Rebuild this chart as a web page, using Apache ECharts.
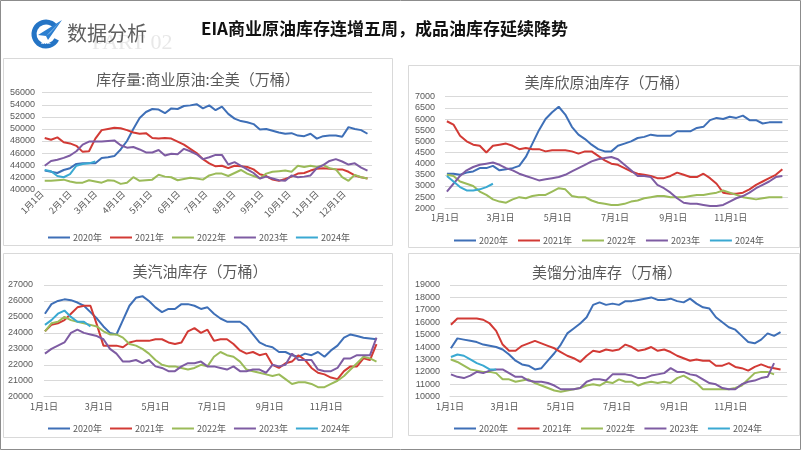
<!DOCTYPE html>
<html><head><meta charset="utf-8">
<script src="https://cdn.jsdelivr.net/npm/echarts@6/dist/echarts.min.js"></script>
<style>html,body{margin:0;padding:0;background:#fff}#c{width:802px;height:451px}</style>
</head><body><div id="c"></div>
<script>
const seriesNames = ['2020年','2021年','2022年','2023年','2024年'];
const monthLabels = ['1月1日','2月1日','3月1日','4月1日','5月1日','6月1日','7月1日','8月1日','9月1日','10月1日','11月1日','12月1日'];
const monthDays = [0,31,59,90,120,151,181,212,243,273,304,334];

// 库存量:商业原油:全美（万桶）
const crude2020 = [43100,42900,42700,43200,43500,44200,44300,44300,44300,45200,45300,45500,46600,48000,50000,51800,52800,53300,53200,52600,53400,53300,53800,53900,54100,53400,53900,53100,53700,52500,51700,51300,51100,50800,49900,50000,49700,49400,49200,49300,48900,48800,49200,48400,48800,48900,48900,48700,50300,50000,49800,49200];
const crude2021 = [48500,48200,48600,47800,47600,47200,46200,46300,48400,49800,50000,50200,50100,49800,49400,49200,49300,48500,48400,48500,48400,47900,47400,46700,46000,45000,44300,43800,43900,43500,43900,43800,43700,43300,42500,42200,41600,41400,41700,42100,42600,42700,43100,43400,43500,43400,43300,43300,42900,42300,42000,41800];
const crude2022 = [41400,41400,41500,41600,41300,41100,41100,41500,41300,41100,41500,41400,40900,41100,42000,41400,41500,41600,42400,42100,42000,41500,41700,41900,41800,41600,42300,42600,42600,42200,42700,43200,42600,42200,41800,42600,42900,43000,43100,42900,43900,43700,43900,43700,44000,43500,43300,42000,41400,42400,42000,41800];
const crude2023 = [43900,44700,44900,45200,45600,46300,47400,47900,47900,47900,48000,48100,47300,46900,47000,46600,46100,46100,46500,45600,45900,45800,46700,46300,45800,45000,45300,45700,45700,44100,44500,43900,43300,42700,41800,42100,41800,41500,41400,42300,42000,42100,42300,43500,44000,44700,45000,44600,44100,44300,43600,43100];
const crude2024 = [43200,43000,42200,42000,42500,43900,44200,44300,44600];

// 美库欣原油库存（万桶）
const cush2020 = [3550,3550,3500,3600,3650,3800,3800,3900,3700,3750,3800,3900,4300,4900,5500,6000,6300,6550,6200,5650,5300,5100,4850,4650,4550,4550,4800,4900,5000,5150,5200,5300,5250,5250,5250,5450,5450,5450,5600,5650,5950,6050,6000,6100,6050,6150,5950,5950,5800,5850,5850,5850];
const cush2021 = [5900,5750,5250,5000,4850,4800,4500,4800,4850,4900,4800,4650,4700,4650,4650,4550,4600,4600,4600,4550,4450,4550,4550,4350,4150,4000,3950,3800,3650,3550,3500,3450,3350,3350,3450,3600,3500,3400,3400,3550,3350,3100,2700,2650,2650,2700,2850,3050,3200,3350,3500,3750];
const cush2022 = [3500,3450,3200,3100,3000,2750,2600,2400,2300,2250,2400,2500,2450,2550,2600,2600,2750,2900,2850,2550,2500,2500,2350,2250,2200,2150,2150,2200,2300,2350,2450,2500,2550,2550,2500,2500,2500,2550,2600,2600,2650,2700,2800,2700,2600,2500,2450,2400,2450,2500,2500,2500];
const cush2023 = [2750,3100,3450,3700,3850,3950,4000,4050,3950,3800,3700,3550,3450,3350,3250,3300,3350,3400,3500,3650,3800,3950,4100,4200,4250,4300,4200,3950,3700,3450,3450,3400,3050,2900,2700,2450,2250,2200,2200,2150,2100,2100,2150,2300,2450,2550,2700,2900,3050,3200,3400,3450];
const cush2024 = [3450,3200,2950,2800,2800,2850,2950,3100];

// 美汽油库存（万桶）
const gas2020 = [25200,25800,26000,26100,26050,25900,25700,25300,24900,24400,24000,23900,24800,25700,26200,26300,26000,25600,25300,25500,25500,25800,25800,25700,25500,25600,25200,24900,24700,24700,24700,24400,23900,23400,23200,23100,22800,22800,22600,22500,22700,22600,22800,22500,22900,23200,23700,23900,23800,23700,23650,23600];
const gas2021 = [24100,24500,24600,24800,25200,25600,25700,25700,24500,23200,23200,23200,23100,23400,23500,23500,23500,23600,23600,23400,23300,23400,24100,24300,24000,24200,23500,23600,23600,23300,22900,22700,22800,22600,22700,22000,21800,22100,22200,22600,22300,21800,21500,21400,21200,21100,21600,21900,21900,22400,22300,23300];
const gas2022 = [24100,24600,24700,25000,24800,24700,24600,24500,24400,24100,23900,23900,23700,23300,23200,23000,22700,22300,22000,21900,21900,21800,21700,21800,22000,21900,22500,22800,22600,22500,22200,21700,21600,21500,21400,21300,21400,21100,20800,20900,20900,20800,20600,20600,20800,21000,21300,21700,22100,22500,22400,22200];
const gas2023 = [22700,23000,23200,23400,24000,24200,24000,23900,23800,23600,23000,22700,22200,22200,22300,22100,22300,21900,21800,21600,21600,21900,22100,22100,22200,21900,21900,21800,21700,21900,21600,21600,21700,21700,21500,22000,21900,22000,22700,22300,22300,22300,21700,21600,21600,21800,22400,22400,22600,22600,22600,23700];
const gas2024 = [24500,24800,25200,25400,25000,24700,24700,24400];

// 美馏分油库存（万桶）
const dist2020 = [13900,14700,14600,14500,14400,14200,14100,14000,13800,13400,12900,12600,12500,12200,12300,12900,13500,14200,15100,15500,15900,16400,17400,17600,17400,17500,17400,17700,17700,17800,17900,18000,17800,17800,17900,17700,17600,17900,17500,17200,17100,16400,16000,15600,15400,14900,14400,14300,14600,15100,14900,15200];
const dist2021 = [15800,16300,16300,16300,16300,16200,15900,15300,14200,13700,13700,14100,14300,14500,14300,14100,13900,13600,13300,13100,12800,13300,13700,13600,13800,13700,13800,14200,14000,13700,13800,14000,13700,13800,13600,13300,13100,12900,13000,12900,12900,12500,12500,12700,12400,12300,12100,12400,12600,12400,12300,12200];
const dist2022 = [13000,12800,12500,12200,12100,12000,12000,11900,11400,11400,11200,11300,11400,11100,10900,10700,10500,10400,10500,10600,10700,10900,11000,10900,11200,11100,11400,11200,11200,10900,11100,11200,11100,11200,11100,11500,11700,11400,11100,10600,10600,10600,10600,10600,10700,10900,11400,11900,12000,12000,11800];
const dist2023 = [11800,11600,11500,11700,12000,11900,12100,12200,12200,11900,11600,11600,11300,11200,11200,11100,10900,10600,10600,10600,10700,11200,11400,11400,11300,11800,11800,11800,11700,11500,11500,11700,11800,11900,12300,12000,12000,11800,11700,11400,11100,11000,10700,10600,10600,11000,11200,11300,11500,11600,12700];
const dist2024 = [13200,13400,13300,13000,12700,12500,12200,12200];

const titles = ['库存量:商业原油:全美（万桶）','美库欣原油库存（万桶）','美汽油库存（万桶）','美馏分油库存（万桶）'];
const colors = ['#3E6FB7','#D23A35','#9BBB59','#7E5CA3','#3AA9D2'];

const panels = [
  {data:[crude2020,crude2021,crude2022,crude2023,crude2024], off:3, min:40000, max:56000, interval:2000,
   grid:{left:42, top:92.7, width:330, height:96.6}, rotate:45, months:monthDays, lblMargin:7, xMargin:3,
   title:[193,67], legend:[43,228], gap:8},
  {data:[cush2020,cush2021,cush2022,cush2023,cush2024], off:2, min:2000, max:7000, interval:500,
   grid:{left:445, top:96.7, width:343, height:111.6}, rotate:0, months:[0,59,120,181,243,304], lblMargin:10, xMargin:5,
   title:[602,70], legend:[449,231], gap:10},
  {data:[gas2020,gas2021,gas2022,gas2023,gas2024], off:1, min:20000, max:27000, interval:1000,
   grid:{left:44, top:285, width:339, height:111.7}, rotate:0, months:[0,59,120,181,243,304], lblMargin:11, xMargin:5,
   title:[195,258.5], legend:[43,419], gap:8},
  {data:[dist2020,dist2021,dist2022,dist2023,dist2024], off:1, min:10000, max:19000, interval:1000,
   grid:{left:450, top:285, width:337, height:111.7}, rotate:0, months:[0,59,120,181,243,304], lblMargin:10, xMargin:5,
   title:[602,260], legend:[449,419], gap:9.5}
];

const FONT = 'Noto Sans CJK SC';
const grids=[], xAxes=[], yAxes=[], series=[], titleArr=[], legends=[];
panels.forEach((p,k)=>{
  grids.push(Object.assign({containLabel:false}, p.grid));
  xAxes.push({type:'value', gridIndex:k, min:0, max:365,
    axisLine:{show:true, lineStyle:{color:'#d9d9d9'}}, axisTick:{show:false}, splitLine:{show:false},
    axisLabel:{customValues:p.months, rotate:p.rotate, margin:p.xMargin, fontSize:9, color:'#595959', fontFamily:FONT,
      formatter:v=>monthLabels[monthDays.indexOf(v)]}});
  yAxes.push({type:'value', gridIndex:k, min:p.min, max:p.max, interval:p.interval,
    axisLine:{show:false}, axisTick:{show:false},
    splitLine:{lineStyle:{color:'#d9d9d9', width:1}},
    axisLabel:{fontSize:9, color:'#595959', margin:p.lblMargin, fontFamily:'Liberation Sans', formatter:v=>String(v)}});
  p.data.forEach((arr,j)=>{
    series.push({type:'line', name:seriesNames[j], xAxisIndex:k, yAxisIndex:k, symbol:'none',
      data:arr.map((v,i)=>[p.off+7*i, v]), color:colors[j],
      lineStyle:{width:2, color:colors[j]}, animation:false});
  });
  titleArr.push({text:titles[k], left:p.title[0], top:p.title[1], textAlign:'center',
    textStyle:{fontSize:15, fontWeight:'normal', color:'#595959', fontFamily:FONT}});
  legends.push({left:p.legend[0], top:p.legend[1], data:seriesNames, icon:'rect', itemWidth:22, itemHeight:2,
    itemGap:p.gap, textStyle:{fontSize:9, color:'#595959', fontFamily:FONT, padding:[0,0,0,-2]}, selectedMode:false});
});

const graphics = [
  {type:'rect', shape:{x:0.5,y:0.5,width:800,height:449}, style:{fill:'none', stroke:'#8c8c8c', lineWidth:1}, z:-10},
  {type:'rect', shape:{x:3.5,y:58.5,width:389,height:187}, style:{fill:'none', stroke:'#d9d9d9', lineWidth:1}, z:-5},
  {type:'rect', shape:{x:408.5,y:65.5,width:391,height:182}, style:{fill:'none', stroke:'#d9d9d9', lineWidth:1}, z:-5},
  {type:'rect', shape:{x:3.5,y:253.5,width:389,height:184}, style:{fill:'none', stroke:'#d9d9d9', lineWidth:1}, z:-5},
  {type:'rect', shape:{x:408.5,y:253.5,width:391,height:182}, style:{fill:'none', stroke:'#d9d9d9', lineWidth:1}, z:-5},
  // logo
  {type:'arc', shape:{cx:46, cy:34, r:12, startAngle:Math.PI*0.15, endAngle:Math.PI*1.75}, style:{stroke:'#2474C5', lineWidth:5, fill:'none'}, z:5},
  {type:'polygon', shape:{points:[[38,35],[62,20],[48,40],[46,36]]}, style:{fill:'#2C7FD0'}, z:6},
  {type:'polygon', shape:{points:[[46,36],[62,20],[50,33]]}, style:{fill:'#9CC7EE'}, z:7},
  {type:'text', x:46, y:43, style:{text:'AVIC', fill:'#ffffff', font:'bold 4px Liberation Sans', textAlign:'center', textVerticalAlign:'middle'}, z:8},
  {type:'text', x:92, y:43, style:{text:'PART 02', fill:'#e8e8e8', font:'22px "Liberation Serif"', textVerticalAlign:'middle'}, z:1},
  {type:'text', x:67, y:33, style:{text:'数据分析', fill:'#606060', font:'20px "Noto Sans CJK SC"', textVerticalAlign:'middle'}, z:3},
  {type:'text', x:201, y:29, style:{text:'EIA商业原油库存连增五周，成品油库存延续降势', fill:'#111111', font:'bold 17px "Noto Sans CJK SC"', textVerticalAlign:'middle'}, z:3}
];

const chart = echarts.init(document.getElementById('c'), null, {renderer:'canvas'});
chart.setOption({
  backgroundColor:'#ffffff', animation:false,
  title:titleArr, legend:legends, grid:grids, xAxis:xAxes, yAxis:yAxes, series:series, graphic:graphics
});
</script></body></html>
